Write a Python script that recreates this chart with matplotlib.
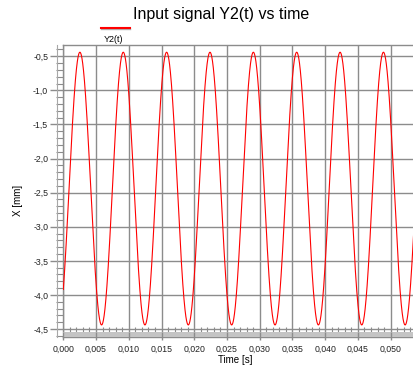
import numpy as np
import matplotlib
matplotlib.use("Agg")
import matplotlib.pyplot as plt
from matplotlib.lines import Line2D
from matplotlib.ticker import MultipleLocator, FuncFormatter

plt.rcParams["font.family"] = ["Liberation Sans", "DejaVu Sans"]

# Y2(t) = offset + amplitude * sin(2*pi*freq*t + phase)
freq_hz = 151.0
amplitude_mm = 2.0
offset_mm = -2.44
phase_rad = -0.833
t_end = 0.05356
n_samples = 3000

x_limits = (0.0, 0.05356)
y_limits = (-4.617, -0.334)
band_top = -4.537
x_major, x_minor = 0.005, 0.001
y_major, y_minor = 0.5, 0.1

title = "Input signal Y2(t) vs time"
series_label = "Y2(t)"
x_label = "Time [s]"
y_label = "X [mm]"

GRID = "#8c8c8c"
W, H = 414, 367

t = np.linspace(0.0, t_end, n_samples)
y2 = offset_mm + amplitude_mm * np.sin(2 * np.pi * freq_hz * t + phase_rad)

fig = plt.figure(figsize=(W / 100, H / 100), dpi=100)
left_px, top_px, bottom_px = 63.3, 45, 337
ax = fig.add_axes([left_px / W, (H - bottom_px) / H,
                   1 - left_px / W, (bottom_px - top_px) / H])

ax.plot(t, y2, color="#ff0000", lw=0.8, zorder=3)
ax.set_xlim(*x_limits)
ax.set_ylim(*y_limits)

ax.xaxis.set_major_locator(MultipleLocator(x_major))
ax.xaxis.set_minor_locator(MultipleLocator(x_minor))
ax.yaxis.set_major_locator(MultipleLocator(y_major))
ax.yaxis.set_minor_locator(MultipleLocator(y_minor))
ax.xaxis.set_major_formatter(FuncFormatter(lambda v, p: f"{v:.3f}".replace(".", ",")))
ax.yaxis.set_major_formatter(FuncFormatter(lambda v, p: f"{v:.1f}".replace(".", ",")))

# grey bar along the bottom of the plot area, over the tick roots
ax.axhspan(y_limits[0], band_top, color="#c4c4c4", lw=0, zorder=2.6)
major_x = [v for v in ax.xaxis.get_majorticklocs() if x_limits[0] <= v <= x_limits[1]]
ax.vlines(major_x, y_limits[0], band_top, color=GRID, lw=1.0, zorder=2.7)

ax.grid(which="major", color=GRID, lw=1.0)
ax.tick_params(axis="x", which="major", direction="out", length=2.5, width=1.0,
               color=GRID, labelsize=6.3, pad=3, labelcolor="#222222")
ax.tick_params(axis="x", which="minor", direction="in", length=7.3, width=0.8,
               color=GRID)
ax.tick_params(axis="y", which="major", direction="out", length=9.4, width=1.0,
               color=GRID, labelsize=6.3, pad=1.5, labelcolor="#222222")
ax.tick_params(axis="y", which="minor", direction="out", length=4.7, width=0.8,
               color=GRID)

for side in ("left", "top", "bottom"):
    ax.spines[side].set_color(GRID)
    ax.spines[side].set_linewidth(1.0)
ax.spines["right"].set_visible(False)

# outer rule of the y tick strip
ax_w = W - left_px
ax.plot([-6.6 / ax_w] * 2, [0, 1], transform=ax.transAxes, clip_on=False,
        color="#a8a8a8", lw=0.8)

fig.text(221.5 / W, 1 - 14 / H, title, fontsize=11.5, ha="center", va="center")
fig.text(235 / W, 1 - 360 / H, x_label, fontsize=7, ha="center", va="center")
fig.text(18 / W, 1 - 200 / H, y_label, fontsize=7, ha="center", va="center",
         rotation=90)

# legend: coloured stroke above its label
fig.add_artist(Line2D([101 / W, 130 / W], [1 - 29.3 / H] * 2,
                      transform=fig.transFigure, color="#b0b0b0", lw=1.0))
fig.add_artist(Line2D([101 / W, 130 / W], [1 - 28 / H] * 2,
                      transform=fig.transFigure, color="#ff0000", lw=1.5))
fig.text(114 / W, 1 - 40 / H, series_label, fontsize=6.5, ha="center", va="center")

fig.savefig("out.png", dpi=100)
